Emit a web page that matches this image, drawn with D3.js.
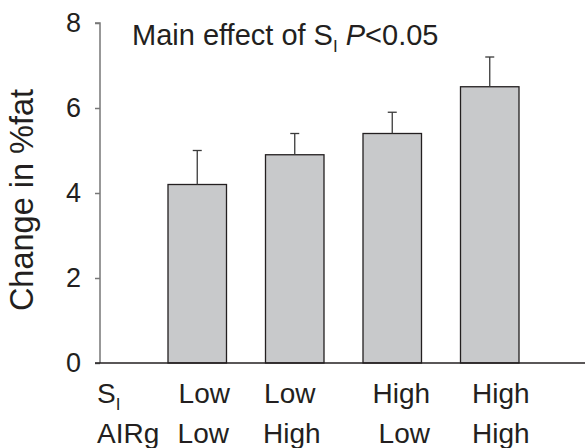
<!DOCTYPE html>
<html lang="en">
<head>
  <meta charset="UTF-8">
  <title>index</title>
  <style type="text/css">
    body { margin: 0; background: #fff; }
    svg text { font-family: "Liberation Sans", Arial, sans-serif; fill: #231f20; }
  </style>
</head>
<body>
  <svg id="chart" width="585" height="448"></svg>

<script src="https://cdn.jsdelivr.net/npm/d3@7/dist/d3.min.js"></script>
<script>
  // groups: SI level / AIRg level
  const siLevels = ['Low', 'Low', 'High', 'High']
  const airgLevels = ['Low', 'High', 'Low', 'High']
  const means = [4.2, 4.9, 5.4, 6.5]
  const errTops = [5.0, 5.4, 5.9, 7.2]
  const yTicks = [0, 2, 4, 6, 8]

  const groups = means.map((m, i) => ({ id: i, si: siLevels[i], airg: airgLevels[i], mean: m, top: errTops[i] }))

  // label nudges (the labels in the figure are not exactly centred on the bars)
  const nudge1 = [7, -5, 9, 11]
  const nudge2 = [6, -3, 12, 11]

  const svg = d3.select('#chart')

  const x = d3.scaleBand()
    .domain(groups.map(d => d.id))
    .range([148.5, 538.5])
    .paddingInner(0.4)
    .paddingOuter(0.2)

  const y = d3.scaleLinear()
    .domain([0, 8])
    .range([363, 23])

  // y axis
  const yAxis = svg.append('g')
    .attr('transform', 'translate(100,0)')
    .call(d3.axisLeft(y).tickValues(yTicks).tickSize(5).tickPadding(14).tickFormat(d3.format('d')))
  yAxis.select('.domain').attr('stroke', '#777').attr('stroke-width', 1.5).attr('d', 'M-5,' + y(8) + 'H0V' + y(0))
  yAxis.selectAll('.tick line').attr('stroke', '#777').attr('stroke-width', 1.5)
  yAxis.selectAll('.tick text').attr('font-size', 27).attr('fill', '#231f20')
    .style('font-family', '"Liberation Sans", Arial, sans-serif')

  // bars
  svg.selectAll('rect.bar')
    .data(groups)
    .enter().append('rect')
    .attr('class', 'bar')
    .attr('x', d => x(d.id))
    .attr('y', d => y(d.mean))
    .attr('width', x.bandwidth())
    .attr('height', d => y(0) - y(d.mean))
    .attr('fill', '#c8c9cb')
    .attr('stroke', '#231f20')
    .attr('stroke-width', 1.3)

  // error bars
  const eb = svg.selectAll('g.err')
    .data(groups)
    .enter().append('g')
    .attr('class', 'err')
    .attr('stroke', '#3a3a3a')
    .attr('stroke-width', 1.3)
  eb.append('line')
    .attr('x1', d => x(d.id) + x.bandwidth() / 2)
    .attr('x2', d => x(d.id) + x.bandwidth() / 2)
    .attr('y1', d => y(d.mean))
    .attr('y2', d => y(d.top))
  eb.append('line')
    .attr('x1', d => x(d.id) + x.bandwidth() / 2 - 4.5)
    .attr('x2', d => x(d.id) + x.bandwidth() / 2 + 4.5)
    .attr('y1', d => y(d.top))
    .attr('y2', d => y(d.top))

  // x axis line
  svg.append('line')
    .attr('x1', 95).attr('x2', 585)
    .attr('y1', y(0)).attr('y2', y(0))
    .attr('stroke', '#231f20')
    .attr('stroke-width', 1.5)

  // y label
  svg.append('text')
    .attr('transform', 'translate(33,200) rotate(-90)')
    .attr('text-anchor', 'middle')
    .attr('font-size', 32.5)
    .text('Change in %fat')

  // title
  const title = svg.append('text')
    .attr('x', 132)
    .attr('y', 45)
    .attr('font-size', 29)
  title.append('tspan').text('Main effect of S')
  title.append('tspan').attr('font-size', 17).attr('dy', 7).text('I')
  title.append('tspan').attr('dy', -7).text(' ')
  title.append('tspan').attr('font-style', 'italic').text('P')
  title.append('tspan').text('<0.05')

  // category labels
  const row1 = svg.append('text').attr('x', 97).attr('y', 403).attr('font-size', 28)
  row1.append('tspan').text('S')
  row1.append('tspan').attr('font-size', 17).attr('dy', 7).text('I')

  svg.append('text').attr('x', 97).attr('y', 443).attr('font-size', 28).text('AIRg')

  svg.selectAll('text.si')
    .data(groups)
    .enter().append('text')
    .attr('class', 'si')
    .attr('x', d => x(d.id) + x.bandwidth() / 2 + nudge1[d.id])
    .attr('y', 403)
    .attr('text-anchor', 'middle')
    .attr('font-size', 28)
    .text(d => d.si)

  svg.selectAll('text.airg')
    .data(groups)
    .enter().append('text')
    .attr('class', 'airg')
    .attr('x', d => x(d.id) + x.bandwidth() / 2 + nudge2[d.id])
    .attr('y', 443)
    .attr('text-anchor', 'middle')
    .attr('font-size', 28)
    .text(d => d.airg)
</script>
</body>
</html>
